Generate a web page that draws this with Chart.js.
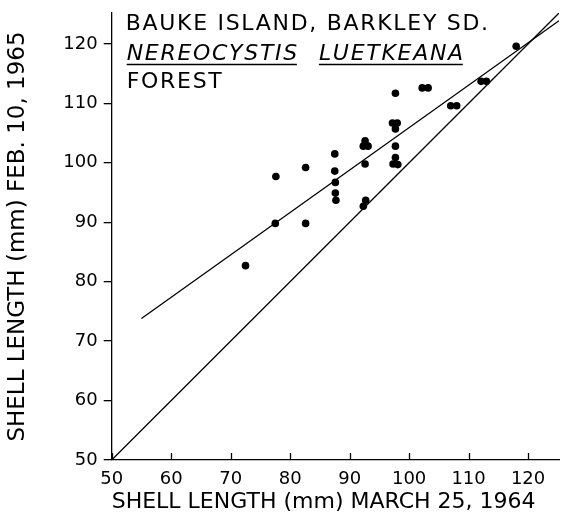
<!DOCTYPE html>
<html><head><meta charset="utf-8">
<script src="https://cdn.jsdelivr.net/npm/chart.js@4.4.0/dist/chart.umd.min.js"></script>
<style>html,body{margin:0;padding:0;background:#fff;}</style>
</head><body>
<canvas id="c" width="587" height="527"></canvas>
<script>
// Shell length (mm) on March 25, 1964 (x) vs Feb 10, 1965 (y)
const marchLength = [72.5, 77.6, 77.5, 82.6, 82.6, 87.5, 87.5, 87.6, 87.6, 87.7, 92.6, 92.3, 93.1, 92.6, 92.7, 92.3, 97.7, 97.2, 98.0, 97.7, 97.7, 97.7, 97.3, 98.1, 102.2, 103.2, 107.0, 108.0, 112.1, 113.0, 118.0];
const febLength   = [82.7, 97.7, 89.8, 99.2, 89.8, 101.5, 98.6, 96.7, 94.9, 93.7, 103.7, 102.8, 102.8, 99.8, 93.7, 92.7, 111.7, 106.7, 106.7, 105.7, 102.8, 100.9, 99.8, 99.7, 112.6, 112.6, 109.6, 109.6, 113.7, 113.7, 119.6];
// line of no growth (y = x)
const equalLineX = [50, 125.2];
const equalLineY = [50, 125.2];
// fitted growth line
const fitLineX = [55, 125.2];
const fitLineY = [73.8, 123.9];
const xTicks = [50, 60, 70, 80, 90, 100, 110, 120];
const yTicks = [50, 60, 70, 80, 90, 100, 110, 120];
const xTitle = 'SHELL LENGTH (mm) MARCH 25, 1964';
const yTitle = 'SHELL LENGTH (mm) FEB. 10, 1965';
const noteLine1 = 'BAUKE ISLAND, BARKLEY SD.';
const noteWords2 = ['NEREOCYSTIS', 'LUETKEANA'];
const noteLine3 = 'FOREST';

const FONT = '"DejaVu Sans", "Liberation Sans", sans-serif';

const points = marchLength.map((x, i) => ({x: x, y: febLength[i]}));
const equalLine = equalLineX.map((x, i) => ({x: x, y: equalLineY[i]}));
const fitLine = fitLineX.map((x, i) => ({x: x, y: fitLineY[i]}));

const extras = {
  id: 'extras',
  afterDraw(chart) {
    const ctx = chart.ctx;
    const xs = chart.scales.x;
    const ca = chart.chartArea;
    ctx.save();
    // inward x ticks
    ctx.strokeStyle = '#000';
    ctx.lineWidth = 1.3;
    xTicks.forEach(v => {
      const px = Math.round(xs.getPixelForValue(v)) + 0.5;
      ctx.beginPath();
      ctx.moveTo(px, ca.bottom);
      ctx.lineTo(px, ca.bottom - 7);
      ctx.stroke();
    });
    // annotation text
    ctx.fillStyle = '#000';
    ctx.textBaseline = 'alphabetic';
    ctx.textAlign = 'left';
    ctx.letterSpacing = '1.7px';
    ctx.font = '22px ' + FONT;
    const x0 = ca.left + 14;
    ctx.fillText(noteLine1, x0, ca.top + 17);
    ctx.fillText(noteLine3, x0 + 1, ca.top + 75);
    ctx.font = 'italic 22px ' + FONT;
    let wx = x0 + 1;
    const uy = ca.top + 51.5;
    noteWords2.forEach((w, i) => {
      ctx.fillText(w, wx, ca.top + 47);
      const wd = ctx.measureText(w).width - 2;
      ctx.beginPath();
      ctx.moveTo(wx, uy);
      ctx.lineTo(wx + wd, uy);
      ctx.stroke();
      wx += wd + 22;
    });
    ctx.restore();
  }
};

new Chart(document.getElementById('c'), {
  type: 'scatter',
  data: {
    datasets: [
      {label: 'Individuals', data: points, pointRadius: 3.8, pointBackgroundColor: '#000', pointBorderWidth: 0, showLine: false},
      {label: 'No growth', data: equalLine, showLine: true, borderColor: '#000', borderWidth: 1.3, pointRadius: 0, fill: false},
      {label: 'Growth', data: fitLine, showLine: true, borderColor: '#000', borderWidth: 1.3, pointRadius: 0, fill: false}
    ]
  },
  options: {
    responsive: false,
    animation: false,
    devicePixelRatio: 1,
    layout: {padding: {top: 13, right: 28, left: 0, bottom: 0}},
    plugins: {legend: {display: false}, tooltip: {enabled: false}},
    scales: {
      x: {
        type: 'linear', min: 50, max: 125.2,
        afterBuildTicks: s => { s.ticks = xTicks.map(v => ({value: v})); },
        afterFit: s => { s.height = 67; s.paddingLeft = 0; s.paddingRight = 0; },
        grid: {drawOnChartArea: false, drawTicks: false},
        border: {color: '#000', width: 1.3},
        ticks: {padding: 9, color: '#000', font: {family: FONT, size: 18}},
        title: {display: true, text: xTitle, align: 'start', color: '#000', font: {family: FONT, size: 22}, padding: {top: 0, bottom: 12}}
      },
      y: {
        type: 'linear', min: 50, max: 125.2,
        afterBuildTicks: s => { s.ticks = yTicks.map(v => ({value: v})); },
        afterFit: s => { s.width = 111.7; s.paddingTop = 0; s.paddingBottom = 0; },
        grid: {drawOnChartArea: false, drawTicks: true, tickLength: 8, color: '#000', lineWidth: 1.3},
        border: {color: '#000', width: 1.3},
        ticks: {padding: 6, color: '#000', font: {family: FONT, size: 18}},
        title: {display: true, text: yTitle, color: '#000', font: {family: FONT, size: 23}, padding: {top: 4, bottom: 0}}
      }
    }
  },
  plugins: [extras]
});
</script>
</body></html>
